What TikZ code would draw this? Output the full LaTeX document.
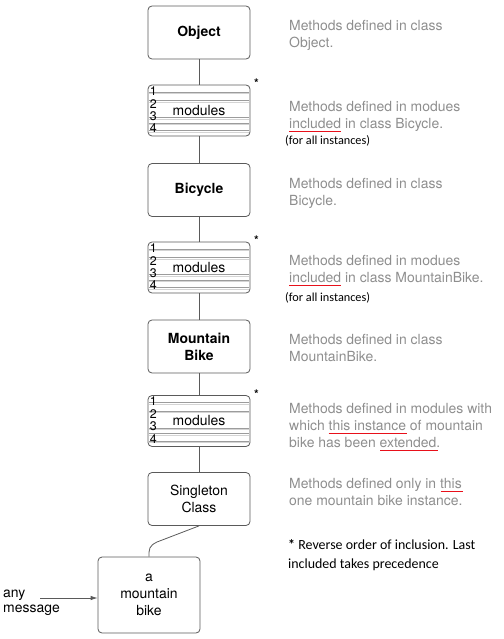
\documentclass[tikz,border=0pt]{standalone}
\usepackage{fontspec}
\usetikzlibrary{positioning,arrows.meta,calc}
\newfontfamily\helv{TeX Gyre Heros}
\newfontfamily\calib{Carlito}
\definecolor{edge}{HTML}{5A5A5A}
\definecolor{descgray}{HTML}{8E8E8E}
\definecolor{rowdark}{HTML}{9C9C9C}
\definecolor{rowlight}{HTML}{D4D4D4}
\definecolor{ulred}{HTML}{E8101A}
\newcommand{\modrows}[1]{%
  \foreach \dy in {7.5,16,33,38.5,46}{
    \draw[rowdark,line width=.6bp] ($(#1.north west)+(1,\dy)$) -- ($(#1.north east)+(-1,\dy)$);
    \draw[rowlight,line width=.6bp] ($(#1.north west)+(1,\dy+1.3)$) -- ($(#1.north east)+(-1,\dy+1.3)$);
  }
  \foreach \k/\dy in {1/6,2/19,3/31.5,4/43.5}
    \node[num] at ($(#1.north west)+(2,\dy)$) {\k};
  \node[star] at ($(#1.north east)+(6,-1)$) {*};
}
\tikzset{
  cls/.style  ={draw=edge, line width=.8bp, rounded corners=4bp, fill=white, minimum width=102bp, minimum height=53bp, align=center, font=\helv\fontsize{14}{17}\selectfont},
  mods/.style ={cls, minimum height=51bp},
  ln/.style   ={draw=edge, line width=.8bp},
  arr/.style  ={ln, -{Latex[length=7bp,width=4.5bp]}},
  redline/.style={draw=ulred, line width=1.3bp},
  desc/.style ={anchor=north west, inner sep=0pt, align=left, text=descgray, font=\helv\fontsize{14}{17}\selectfont},
  note/.style ={anchor=base west, inner sep=0pt, font=\calib\fontsize{12.3}{15}\selectfont},
  star/.style ={inner sep=0pt, font=\helv\bfseries\fontsize{12}{12}\selectfont},
  num/.style  ={anchor=west, inner sep=0pt, font=\helv\fontsize{12.5}{12.5}\selectfont},
}
\begin{document}
\begin{tikzpicture}[x=1bp,y=-1bp]
    \useasboundingbox (0,0) rectangle (504,639);

    % class column
    \node[cls] (obj) at (199,32.5) {\bfseries Object};
    \node[mods] (m1) at (199,110.5) {\raisebox{-3bp}{modules}};
    \node[cls] (bic) at (199,190) {\bfseries Bicycle};
    \node[mods] (m2) at (199,267.5) {\raisebox{-3bp}{modules}};
    \node[cls] (mtb) at (199,346.5) {\bfseries Mountain\\\bfseries Bike};
    \node[mods] (m3) at (199,421) {\raisebox{-3bp}{modules}};
    \node[cls] (single) at (199,499) {Singleton\\Class};
    \node[cls,minimum height=76bp] (bike) at (149,595) {a\\mountain\\bike};
    \modrows{m1}
    \modrows{m2}
    \modrows{m3}

    \draw[ln] (obj) -- (m1);
    \draw[ln] (m1) -- (bic);
    \draw[ln] (bic) -- (m2);
    \draw[ln] (m2) -- (mtb);
    \draw[ln] (mtb) -- (m3);
    \draw[ln] (m3) -- (single);
    \coordinate (bend) at (157,542);
    \draw[ln] (single.south) -- (bend) .. controls +(-8,4) and +(0,-8) .. (bike.north);

    % incoming message
    \node[anchor=north west, inner sep=0pt, align=left, font=\helv\fontsize{14}{14.5}\selectfont] (msg) at (3,590.2) {any\\message};
    \coordinate (src) at (40,598);
    \draw[arr] (src) -- (bike.west |- src);

    % descriptions
    \node[desc] (d-obj) at (289,19.8) {Methods defined in class\\Object.};
    \node[desc] (d-m1) at (289,100.8) {Methods defined in modues\\included in class Bicycle.};
    \node[note] (n-m1) at (285,145) {(for all instances)};
    \node[desc] (d-bic) at (289,177.8) {Methods defined in class\\Bicycle.};
    \node[desc] (d-m2) at (289,254.8) {Methods defined in modues\\included in class MountainBike.};
    \node[note] (n-m2) at (285,301) {(for all instances)};
    \node[desc] (d-mtb) at (289,333.8) {Methods defined in class\\MountainBike.};
    \node[desc] (d-m3) at (289,402.8) {Methods defined in modules with\\which this instance of mountain\\bike has been extended.};
    \node[desc] (d-single) at (289,477.8) {Methods defined only in this\\one mountain bike instance.};
    \node[anchor=north west, inner sep=0pt, align=left, font=\calib\fontsize{14}{19}\selectfont] (foot) at (288,539)
      {{\bfseries *} Reverse order of inclusion. Last\\included takes precedence};

    % red underlines
    \draw[redline] ($(d-m1.north west)+(0,30.6)$) -- +(52.1,0);
    \draw[redline] ($(d-m2.north west)+(0,30.6)$) -- +(52.1,0);
    \draw[redline] ($(d-m3.north west)+(39.7,30.6)$) -- +(77.8,0);
    \draw[redline] ($(d-m3.north west)+(91.1,47.6)$) -- +(57.6,0);
    \draw[redline] ($(d-single.north west)+(151.7,13.6)$) -- +(21.8,0);
  \end{tikzpicture}
\end{document}
